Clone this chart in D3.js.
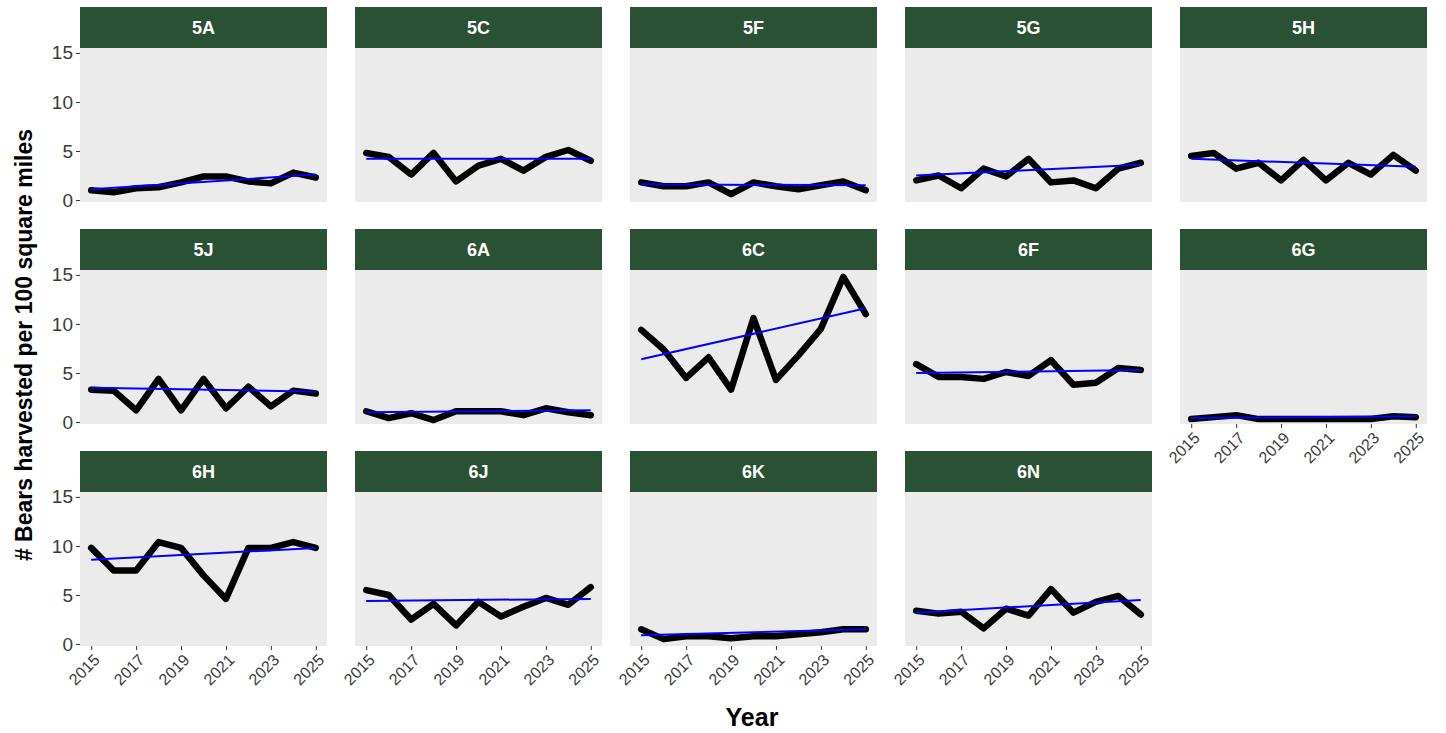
<!DOCTYPE html>
<html lang="en">
<head>
<meta charset="UTF-8">
<title>Bears harvested</title>
<script src="https://d3js.org/d3.v7.min.js"></script>
<style>
  body { margin: 0; background: #fff; font-family: "Liberation Sans", Arial, sans-serif; }
  .tick text { fill: #3a3a3a; }
  .tick line { stroke: #333; }
</style>
</head>
<body>
<svg id="chart" width="1446" height="733"></svg>
<script>
const years = d3.range(2015, 2026);
const units = ["5A", "5C", "5F", "5G", "5H", "5J", "6A", "6C", "6F", "6G", "6H", "6J", "6K", "6N"];
const v5A = [1.0, 0.8, 1.2, 1.3, 1.8, 2.4, 2.4, 1.9, 1.7, 2.8, 2.3];
const v5C = [4.8, 4.4, 2.6, 4.8, 1.9, 3.5, 4.2, 3.0, 4.4, 5.1, 4.0];
const v5F = [1.8, 1.4, 1.4, 1.8, 0.6, 1.8, 1.4, 1.1, 1.5, 1.9, 1.0];
const v5G = [2.0, 2.5, 1.2, 3.2, 2.4, 4.2, 1.8, 2.0, 1.2, 3.2, 3.8];
const v5H = [4.5, 4.8, 3.2, 3.8, 2.0, 4.1, 2.0, 3.8, 2.6, 4.6, 3.0];
const v5J = [3.3, 3.2, 1.2, 4.4, 1.2, 4.4, 1.4, 3.6, 1.6, 3.2, 2.9];
const v6A = [1.1, 0.4, 0.9, 0.2, 1.1, 1.1, 1.1, 0.7, 1.4, 1.0, 0.7];
const v6C = [9.4, 7.4, 4.5, 6.6, 3.3, 10.6, 4.3, 6.8, 9.5, 14.8, 11.0];
const v6F = [5.9, 4.6, 4.6, 4.4, 5.1, 4.7, 6.3, 3.8, 4.0, 5.5, 5.3];
const v6G = [0.3, 0.5, 0.7, 0.3, 0.3, 0.3, 0.3, 0.3, 0.3, 0.6, 0.5];
const v6H = [9.8, 7.5, 7.5, 10.4, 9.8, 7.0, 4.6, 9.8, 9.8, 10.4, 9.8];
const v6J = [5.5, 5.0, 2.5, 4.1, 1.9, 4.3, 2.8, 3.8, 4.7, 4.0, 5.8];
const v6K = [1.5, 0.5, 0.8, 0.8, 0.6, 0.8, 0.8, 1.0, 1.2, 1.5, 1.5];
const v6N = [3.4, 3.1, 3.3, 1.6, 3.6, 2.9, 5.6, 3.2, 4.3, 4.9, 3.0];
const values = [v5A, v5C, v5F, v5G, v5H, v5J, v6A, v6C, v6F, v6G, v6H, v6J, v6K, v6N];
// blue trend line, value at 2015 and at 2025
const trendStart = [1.1, 4.2, 1.6, 2.5, 4.2, 3.5, 1.0, 6.4, 5.0, 0.4, 8.6, 4.4, 0.9, 3.2];
const trendEnd   = [2.6, 4.2, 1.5, 3.6, 3.4, 3.1, 1.2, 11.6, 5.3, 0.6, 9.8, 4.6, 1.5, 4.5];
const xTicks = [2015, 2017, 2019, 2021, 2023, 2025];
const yTicks = [0, 5, 10, 15];

const svg = d3.select("#chart");
const ncol = 5, left = 80, pw = 247, gapX = 28, top0 = 7, stripH = 41, ph = 154, rowStep = 222;

const x = d3.scaleLinear().domain([2014.5, 2025.5]).range([0, pw]);
const y = d3.scaleLinear().domain([-0.2, 15.5]).range([ph, 0]);

units.forEach((u, i) => {
  const col = i % ncol, row = Math.floor(i / ncol);
  const g = svg.append("g").attr("transform", `translate(${left + col * (pw + gapX)},${top0 + row * rowStep})`);
  g.append("rect").attr("width", pw).attr("height", stripH).attr("fill", "#2b5134");
  g.append("text").attr("x", pw / 2).attr("y", stripH / 2 + 6).attr("text-anchor", "middle")
    .attr("fill", "#fff").attr("font-weight", "bold").attr("font-size", 18).text(u);

  const p = g.append("g").attr("transform", `translate(0,${stripH})`);
  p.append("rect").attr("width", pw).attr("height", ph).attr("fill", "#ebebeb");

  p.append("path").datum(values[i])
    .attr("d", d3.line().x((d, k) => x(years[k])).y(d => y(d)))
    .attr("fill", "none").attr("stroke", "#000").attr("stroke-width", 6.5)
    .attr("stroke-linejoin", "round").attr("stroke-linecap", "round");
  p.append("line").attr("x1", x(2015)).attr("x2", x(2025))
    .attr("y1", y(trendStart[i])).attr("y2", y(trendEnd[i]))
    .attr("stroke", "#0000ff").attr("stroke-width", 2);

  if (col === 0) {
    const ya = p.append("g").call(d3.axisLeft(y).tickValues(yTicks).tickSize(4).tickPadding(3));
    ya.select(".domain").remove();
    ya.selectAll("text").attr("font-size", 19).attr("font-family", "Liberation Sans, Arial");
  }
  if (row === 2 || i === 9) {
    const xa = p.append("g").attr("transform", `translate(0,${ph})`)
      .call(d3.axisBottom(x).tickValues(xTicks).tickFormat(d3.format("d")).tickSize(4));
    xa.select(".domain").remove();
    xa.selectAll("text").style("font-size", "16px").attr("font-family", "Liberation Sans, Arial")
      .attr("text-anchor", "end").attr("dy", "0.35em").attr("x", 0).attr("y", 0)
      .attr("transform", "translate(5,11) rotate(-45)");
  }
});

svg.append("text").attr("x", 752).attr("y", 726).attr("text-anchor", "middle")
  .attr("font-weight", "bold").attr("font-size", 25).text("Year");
svg.append("text").attr("transform", "translate(32,345) rotate(-90)").attr("text-anchor", "middle")
  .attr("font-weight", "bold").attr("font-size", 23).text("# Bears harvested per 100 square miles");
</script>
</body>
</html>
